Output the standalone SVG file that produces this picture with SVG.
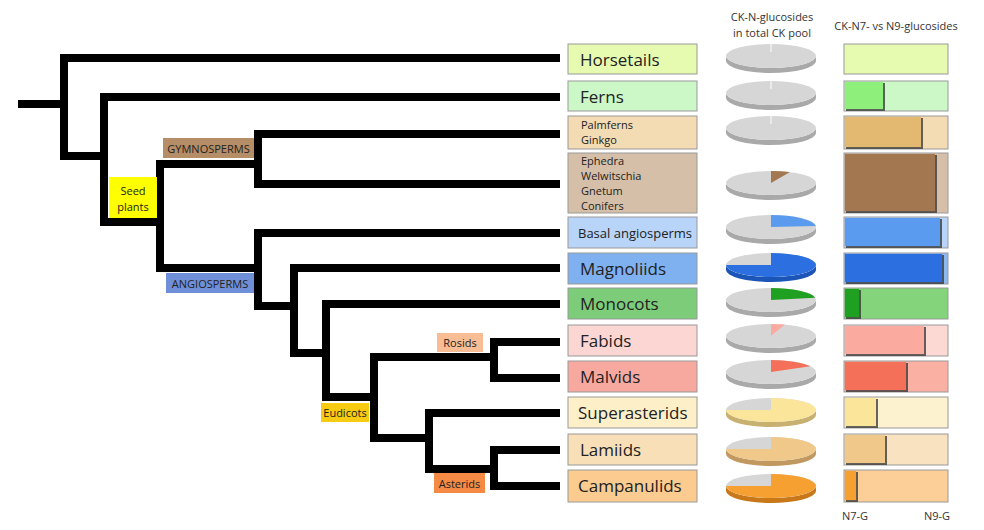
<svg xmlns="http://www.w3.org/2000/svg" width="984" height="530" viewBox="0 0 984 530">
<style>
text{font-family:"Open Sans","Liberation Sans",sans-serif;fill:#222}
.big{font-size:17px}
.sm{font-size:11px}
.hd{font-size:11px;fill:#333}
.lb{stroke:#999;stroke-width:1}
.tree{fill:none;stroke:#000;stroke-width:8;stroke-linecap:square;stroke-linejoin:miter}
.side{fill:#a9a9a9}
.top{fill:#d6d6d6}
.sh{fill:#333;stroke:none;opacity:0.75}
</style>
<rect width="984" height="530" fill="#fff"/>
<g id="connectors" class="tree">
<path d="M22,104 H64 M64,58 V156 H104 M64,58 H556 M104,97 V222 H160 M104,97 H556 M160,164 V268 M160,164 H258 M258,134 V184 M258,134 H556 M258,184 H556 M160,268 H258 M258,233 V306 H294 M258,233 H556 M294,268 V353 H326 M294,268 H556 M326,304 V397 H374 M326,304 H556 M374,357 V438 H429 M374,357 H494 M494,342 V378 M494,342 H556 M494,378 H556 M429,413 V469 H494 M429,413 H556 M494,450 V486 M494,450 H556 M494,486 H556"/>
</g>
<g id="clade-labels">
<g id="gymnosperms"><rect x="163" y="138" width="91" height="20" fill="#b58d66"/><text x="208.5" y="153" text-anchor="middle" class="sm">GYMNOSPERMS</text></g>
<g id="seed-plants"><rect x="109" y="177" width="48" height="41" fill="#ffff00"/><text x="133" y="195" text-anchor="middle" class="sm">Seed</text><text x="133" y="211" text-anchor="middle" class="sm">plants</text></g>
<g id="angiosperms"><rect x="166" y="273" width="88" height="20" fill="#6f8fd8"/><text x="210" y="288" text-anchor="middle" class="sm">ANGIOSPERMS</text></g>
<g id="rosids"><rect x="437" y="333" width="46" height="19" fill="#f8bd95"/><text x="460" y="347" text-anchor="middle" class="sm">Rosids</text></g>
<g id="eudicots"><rect x="321" y="403" width="48" height="19" fill="#f7cb12"/><text x="345" y="417" text-anchor="middle" class="sm">Eudicots</text></g>
<g id="asterids"><rect x="434" y="473" width="51" height="20" fill="#f48a44"/><text x="459.5" y="488" text-anchor="middle" class="sm">Asterids</text></g>
</g>
<g id="headers">
<text x="772" y="21" text-anchor="middle" class="hd">CK-N-glucosides</text>
<text x="772" y="37" text-anchor="middle" class="hd">in total CK pool</text>
<text x="896" y="30" text-anchor="middle" class="hd">CK-N7- vs N9-glucosides</text>
<text x="842" y="520" class="hd">N7-G</text>
<text x="950" y="520" text-anchor="end" class="hd">N9-G</text>
</g>
<g id="leaf-labels">
<g id="horsetails"><rect class="lb" x="568" y="44" width="129" height="30" fill="#e6fbb0"/><text x="580" y="66" class="big">Horsetails</text></g>
<g id="ferns"><rect class="lb" x="568" y="81" width="129" height="30" fill="#ccf8c8"/><text x="580" y="103" class="big">Ferns</text></g>
<g id="palmferns"><rect class="lb" x="568" y="116" width="129" height="33" fill="#f3dbb3"/><text x="581" y="129" class="sm">Palmferns</text><text x="581" y="144" class="sm">Ginkgo</text></g>
<g id="ephedra"><rect class="lb" x="568" y="153" width="129" height="60" fill="#d6bfa8"/><text x="581" y="165" class="sm">Ephedra</text><text x="581" y="180" class="sm">Welwitschia</text><text x="581" y="195" class="sm">Gnetum</text><text x="581" y="210" class="sm">Conifers</text></g>
<g id="basal"><rect class="lb" x="568" y="217" width="129" height="31" fill="#b8d4f8"/><text x="578" y="238" font-size="13">Basal angiosperms</text></g>
<g id="magnoliids"><rect class="lb" x="568" y="253" width="129" height="31" fill="#7fb0f0"/><text x="580" y="275" class="big">Magnoliids</text></g>
<g id="monocots"><rect class="lb" x="568" y="288" width="129" height="31" fill="#7dcc7a"/><text x="580" y="310" class="big">Monocots</text></g>
<g id="fabids"><rect class="lb" x="568" y="325" width="129" height="31" fill="#fcd6d2"/><text x="580" y="347" class="big">Fabids</text></g>
<g id="malvids"><rect class="lb" x="568" y="361" width="129" height="31" fill="#f7a9a0"/><text x="580" y="383" class="big">Malvids</text></g>
<g id="superasterids"><rect class="lb" x="568" y="397" width="129" height="31" fill="#fdf0c9"/><text x="578" y="419" class="big">Superasterids</text></g>
<g id="lamiids"><rect class="lb" x="568" y="434" width="129" height="31" fill="#f8dfb8"/><text x="580" y="456" class="big">Lamiids</text></g>
<g id="campanulids"><rect class="lb" x="568" y="470" width="129" height="32" fill="#fbcb90"/><text x="578" y="492" class="big">Campanulids</text></g>
</g>
<g id="pies">
<g id="pie-horsetails"><path class="side" d="M726,56 A45,12 0 0 0 816,56 V61 A45,12 0 0 1 726,61 Z"/><ellipse class="top" cx="771" cy="56" rx="45" ry="12"/><line x1="771" y1="44" x2="771" y2="52" stroke="#fff"/></g>
<g id="pie-ferns"><path class="side" d="M726,93 A45,12 0 0 0 816,93 V98 A45,12 0 0 1 726,98 Z"/><ellipse class="top" cx="771" cy="93" rx="45" ry="12"/><line x1="771" y1="81" x2="771" y2="89" stroke="#fff"/></g>
<g id="pie-palmferns"><path class="side" d="M726,128 A45,12 0 0 0 816,128 V133 A45,12 0 0 1 726,133 Z"/><ellipse class="top" cx="771" cy="128" rx="45" ry="12"/><line x1="771" y1="116" x2="771" y2="124" stroke="#fff"/></g>
<g id="pie-ephedra"><path class="side" d="M726,183 A45,12 0 0 0 816,183 V188 A45,12 0 0 1 726,188 Z"/><ellipse class="top" cx="771" cy="183" rx="45" ry="12"/><path d="M771,183 V171 A45,12 0 0 1 790,172.1 Z" fill="#a37850"/></g>
<g id="pie-basal"><path class="side" d="M726,227 A45,12 0 0 0 816,227 V232 A45,12 0 0 1 726,232 Z"/><ellipse class="top" cx="771" cy="227" rx="45" ry="12"/><path d="M771,227 V215 A45,12 0 0 1 815.8,226 Z" fill="#5b9bef"/></g>
<g id="pie-magnoliids"><path d="M726,265 A45,12 0 0 0 816,265 V270 A45,12 0 0 1 726,270 Z" fill="#1c55b8"/><ellipse class="top" cx="771" cy="265" rx="45" ry="12"/><path d="M771,265 V253 A45,12 0 1 1 726,265 Z" fill="#2c6fe0"/></g>
<g id="pie-monocots"><path class="side" d="M726,300 A45,12 0 0 0 816,300 V305 A45,12 0 0 1 726,305 Z"/><ellipse class="top" cx="771" cy="300" rx="45" ry="12"/><path d="M771,300 V288 A45,12 0 0 1 815.2,297.7 Z" fill="#1fa020"/></g>
<g id="pie-fabids"><path class="side" d="M726,336 A45,12 0 0 0 816,336 V341 A45,12 0 0 1 726,341 Z"/><ellipse class="top" cx="771" cy="336" rx="45" ry="12"/><path d="M771,336 V324 A45,12 0 0 1 784.9,324.6 Z" fill="#fbaaa0"/></g>
<g id="pie-malvids"><path class="side" d="M726,372 A45,12 0 0 0 816,372 V377 A45,12 0 0 1 726,377 Z"/><ellipse class="top" cx="771" cy="372" rx="45" ry="12"/><path d="M771,372 V360 A45,12 0 0 1 810.4,366.2 Z" fill="#f47058"/></g>
<g id="pie-superasterids"><path d="M726,410 A45,12 0 0 0 816,410 V415 A45,12 0 0 1 726,415 Z" fill="#c8b070"/><ellipse class="top" cx="771" cy="410" rx="45" ry="12"/><path d="M771,410 V398 A45,12 0 1 1 726,410 Z" fill="#fbe59a"/></g>
<g id="pie-lamiids"><path d="M726,449 A45,12 0 0 0 816,449 V454 A45,12 0 0 1 726,454 Z" fill="#c09860"/><ellipse class="top" cx="771" cy="449" rx="45" ry="12"/><path d="M771,449 V437 A45,12 0 1 1 726,449 Z" fill="#f0c88a"/></g>
<g id="pie-campanulids"><path d="M726,486 A45,12 0 0 0 816,486 V491 A45,12 0 0 1 726,491 Z" fill="#c87818"/><ellipse class="top" cx="771" cy="486" rx="45" ry="12"/><path d="M771,486 V474 A45,12 0 1 1 726,486 Z" fill="#f5a030"/></g>
</g>
<g id="bars" stroke="#999" stroke-width="1">
<rect x="844" y="44" width="104" height="30" fill="#e6fbb0"/>
<rect x="844" y="81" width="104" height="30" fill="#ccf8c8"/><rect class="sh" x="846" y="83" width="39" height="28"/><rect x="845" y="82" width="38" height="27" fill="#8ef07a" stroke="none"/>
<rect x="844" y="116" width="104" height="33" fill="#f3dbb3"/><rect class="sh" x="846" y="118" width="77" height="31"/><rect x="845" y="117" width="76" height="30" fill="#e3b870" stroke="none"/>
<rect x="844" y="153" width="104" height="60" fill="#d6bfa8"/><rect class="sh" x="846" y="155" width="91" height="58"/><rect x="845" y="154" width="90" height="57" fill="#a37850" stroke="none"/>
<rect x="844" y="217" width="104" height="31" fill="#b8d4f8"/><rect class="sh" x="846" y="219" width="96" height="29"/><rect x="845" y="218" width="95" height="28" fill="#5b9bef" stroke="none"/>
<rect x="844" y="253" width="104" height="31" fill="#8fb8f0"/><rect class="sh" x="846" y="255" width="98" height="29"/><rect x="845" y="254" width="97" height="28" fill="#2c6fe0" stroke="none"/>
<rect x="844" y="288" width="104" height="31" fill="#84d47c"/><rect class="sh" x="846" y="290" width="15" height="29"/><rect x="845" y="289" width="14" height="28" fill="#1fa020" stroke="none"/>
<rect x="844" y="325" width="104" height="31" fill="#fdd9d4"/><rect class="sh" x="846" y="327" width="80" height="29"/><rect x="845" y="326" width="79" height="28" fill="#fbaaa0" stroke="none"/>
<rect x="844" y="361" width="104" height="31" fill="#fbb0a4"/><rect class="sh" x="846" y="363" width="62" height="29"/><rect x="845" y="362" width="61" height="28" fill="#f47058" stroke="none"/>
<rect x="844" y="397" width="104" height="31" fill="#fdf2d0"/><rect class="sh" x="846" y="399" width="32" height="29"/><rect x="845" y="398" width="31" height="28" fill="#fbe59a" stroke="none"/>
<rect x="844" y="434" width="104" height="31" fill="#f8e2c0"/><rect class="sh" x="846" y="436" width="41" height="29"/><rect x="845" y="435" width="40" height="28" fill="#f0c88a" stroke="none"/>
<rect x="844" y="470" width="104" height="32" fill="#fccf98"/><rect class="sh" x="846" y="472" width="12" height="30"/><rect x="845" y="471" width="11" height="29" fill="#f5a030" stroke="none"/>
</g>
</svg>
